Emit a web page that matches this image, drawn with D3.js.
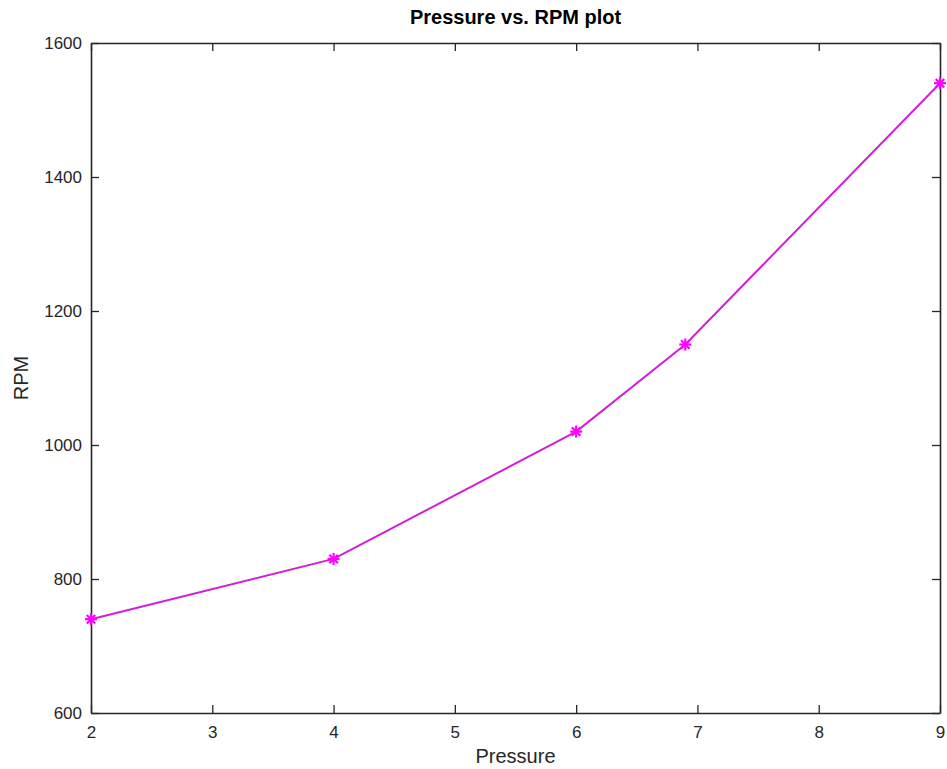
<!DOCTYPE html>
<html>
<head>
<meta charset="utf-8">
<script src="https://cdn.jsdelivr.net/npm/d3@7"></script>
<style>
  body { margin: 0; background: #fff; }
  svg { font-family: "Liberation Sans", Arial, sans-serif; }
</style>
</head>
<body>
<svg width="947" height="769"></svg>
<script>
// data
const pressure = [2, 4, 6, 6.9, 9];
const rpm = [740, 830, 1020, 1150, 1540];
const xTicks = [2, 3, 4, 5, 6, 7, 8, 9];
const yTicks = [600, 800, 1000, 1200, 1400, 1600];

const margin = { left: 91, right: 7, top: 43, bottom: 56 };
const width = 947, height = 769;

const svg = d3.select('svg');

const x = d3.scaleLinear()
  .domain([2, 9])
  .range([margin.left, width - margin.right]);
const y = d3.scaleLinear()
  .domain([600, 1600])
  .range([height - margin.bottom, margin.top]);

const tickLen = 8;
const axisColor = '#262626';
const fmt = d3.format('d');

// bottom axis (ticks point inward)
const gx = svg.append('g')
  .attr('transform', `translate(0,${y(600)})`)
  .call(d3.axisBottom(x).tickValues(xTicks).tickFormat(fmt).tickSizeInner(-tickLen).tickSizeOuter(0).tickPadding(13));
// left axis
const gy = svg.append('g')
  .attr('transform', `translate(${x(2)},0)`)
  .call(d3.axisLeft(y).tickValues(yTicks).tickFormat(fmt).tickSizeInner(-tickLen).tickSizeOuter(0).tickPadding(9));
// top and right: ticks only
const gt = svg.append('g')
  .attr('transform', `translate(0,${y(1600)})`)
  .call(d3.axisTop(x).tickValues(xTicks).tickSizeInner(-tickLen).tickSizeOuter(0).tickFormat(''));
const gr = svg.append('g')
  .attr('transform', `translate(${x(9)},0)`)
  .call(d3.axisRight(y).tickValues(yTicks).tickSizeInner(-tickLen).tickSizeOuter(0).tickFormat(''));

[gx, gy, gt, gr].forEach(g => {
  g.selectAll('.domain').attr('stroke', axisColor).attr('stroke-width', 1.6);
  g.selectAll('.tick line').attr('stroke', axisColor).attr('stroke-width', 1.3);
  g.selectAll('.tick text')
    .attr('fill', axisColor)
    .style('font-size', '17px')
    .style('font-family', '"Liberation Sans", Arial, sans-serif');
});

// line
const pts = pressure.map((p, i) => ({ p: p, r: rpm[i] }));
svg.append('path')
  .datum(pts)
  .attr('fill', 'none')
  .attr('stroke', '#d21fd6')
  .attr('stroke-width', 2)
  .attr('d', d3.line().x(d => x(d.p)).y(d => y(d.r)));

// asterisk markers
const star = svg.append('g').selectAll('g')
  .data(pts)
  .enter().append('g')
  .attr('transform', d => `translate(${x(d.p)},${y(d.r)})`);
[0, 45, 90, 135].forEach(a => {
  star.append('line')
    .attr('x1', -6).attr('x2', 6)
    .attr('transform', `rotate(${a})`)
    .attr('stroke', '#ff00ff')
    .attr('stroke-width', 2.2);
});

// title and labels
svg.append('text')
  .attr('x', (x(2) + x(9)) / 2)
  .attr('y', 24)
  .attr('text-anchor', 'middle')
  .style('font-size', '20px')
  .style('font-weight', 'bold')
  .attr('fill', '#000')
  .text('Pressure vs. RPM plot');

svg.append('text')
  .attr('x', (x(2) + x(9)) / 2)
  .attr('y', 763)
  .attr('text-anchor', 'middle')
  .style('font-size', '20px')
  .attr('fill', axisColor)
  .text('Pressure');

svg.append('text')
  .attr('transform', `translate(28,${(y(600) + y(1600)) / 2}) rotate(-90)`)
  .attr('text-anchor', 'middle')
  .style('font-size', '20px')
  .attr('fill', axisColor)
  .text('RPM');
</script>
</body>
</html>
